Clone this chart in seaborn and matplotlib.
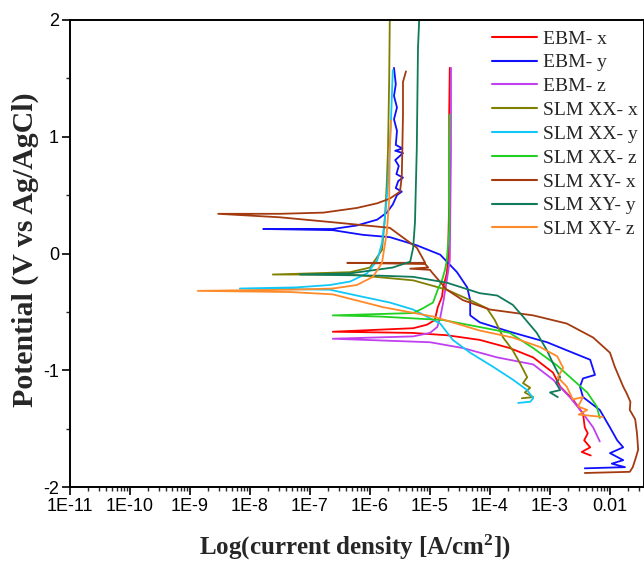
import numpy as np
import pandas as pd
import matplotlib
matplotlib.use("Agg")
import matplotlib.pyplot as plt
import seaborn as sns
from matplotlib.lines import Line2D
from matplotlib.ticker import FixedLocator, FixedFormatter, LogLocator, NullFormatter

# ---------------- data (log10 current density [A/cm2], potential [V]) ----------------
series_names = ["EBM- x", "EBM- y", "EBM- z", "SLM XX- x", "SLM XX- y",
                "SLM XX- z", "SLM XY- x", "SLM XY- y", "SLM XY- z"]
series_colors = ["#FF0000", "#1010FF", "#C040F0", "#808000", "#10C8F8",
                 "#22D022", "#A33A10", "#117A5B", "#FF8A2A"]

# cathodic branches: from corrosion point down to the start of the scan
ebm_x_cat_logI = [-6.62, -5.30, -4.72, -4.17, -3.67, -3.28, -2.95, -2.83, -2.62, -2.45, -2.42, -2.37, -2.43, -2.33, -2.47, -2.32]
ebm_x_cat_E = [-0.67, -0.68, -0.70, -0.74, -0.81, -0.89, -1.02, -1.14, -1.25, -1.37, -1.49, -1.54, -1.60, -1.66, -1.70, -1.73]
ebm_x_an_logI = [-6.62, -5.28, -5.05, -4.92, -4.87, -4.80, -4.78, -4.72, -4.70, -4.68, -4.68, -4.67]
ebm_x_an_E = [-0.67, -0.64, -0.61, -0.57, -0.46, -0.37, -0.29, -0.17, -0.06, 0.46, 1.20, 1.59]

ebm_y_cat_logI = [-7.78, -6.62, -6.12, -5.67, -5.22, -4.83, -4.55, -4.38, -4.33, -4.33, -4.17, -3.67, -3.05, -2.62, -2.33, -2.25,
                  -2.45, -2.50, -2.45, -2.17, -2.00, -1.88, -1.78, -2.00, -1.78, -1.97, -1.75, -2.42]
ebm_y_cat_E = [0.21, 0.20, 0.16, 0.14, 0.07, -0.01, -0.16, -0.29, -0.40, -0.53, -0.59, -0.67, -0.76, -0.85, -0.91, -1.04,
               -1.07, -1.14, -1.23, -1.34, -1.49, -1.60, -1.66, -1.71, -1.77, -1.80, -1.83, -1.84]
ebm_y_an_logI = [-7.78, -6.62, -6.22, -5.88, -5.72, -5.62, -5.55, -5.47, -5.57, -5.53, -5.45, -5.56, -5.52, -5.58, -5.45,
                 -5.58, -5.46, -5.57, -5.55, -5.60, -5.55, -5.60, -5.57, -5.60]
ebm_y_an_E = [0.21, 0.21, 0.24, 0.29, 0.35, 0.42, 0.50, 0.53, 0.56, 0.62, 0.65, 0.68, 0.75, 0.80, 0.86,
              0.88, 0.90, 0.93, 1.05, 1.15, 1.25, 1.35, 1.45, 1.59]

ebm_z_cat_logI = [-6.62, -5.00, -4.45, -3.88, -3.28, -2.95, -2.67, -2.45, -2.28, -2.17]
ebm_z_cat_E = [-0.73, -0.76, -0.81, -0.89, -0.95, -1.08, -1.23, -1.37, -1.49, -1.61]
ebm_z_an_logI = [-6.62, -5.28, -5.00, -4.88, -4.83, -4.78, -4.72, -4.67, -4.65, -4.65]
ebm_z_an_E = [-0.73, -0.71, -0.68, -0.63, -0.55, -0.42, -0.23, -0.06, 0.89, 1.59]

xx_x_cat_logI = [-7.62, -6.33, -5.28, -4.72, -4.33, -4.05, -3.92, -3.78, -3.62, -3.50, -3.38, -3.45, -3.33, -3.42, -3.28, -3.47]
xx_x_cat_E = [-0.18, -0.18, -0.23, -0.31, -0.40, -0.47, -0.57, -0.72, -0.83, -0.94, -1.06, -1.11, -1.15, -1.19, -1.23, -1.24]
xx_x_an_logI = [-7.62, -6.33, -6.00, -5.80, -5.75, -5.72, -5.70, -5.68, -5.67]
xx_x_an_E = [-0.18, -0.16, -0.12, 0.03, 0.31, 0.60, 0.89, 1.49, 2.00]

xx_y_cat_logI = [-8.17, -6.67, -6.22, -5.67, -5.28, -4.83, -4.62, -4.33, -3.95, -3.62, -3.38, -3.28, -3.33, -3.53]
xx_y_cat_E = [-0.30, -0.31, -0.36, -0.42, -0.48, -0.60, -0.74, -0.85, -0.97, -1.08, -1.17, -1.24, -1.27, -1.28]
xx_y_an_logI = [-8.17, -7.22, -6.67, -6.33, -6.05, -5.88, -5.80, -5.75, -5.70, -5.65, -5.62]
xx_y_an_E = [-0.30, -0.29, -0.27, -0.24, -0.17, -0.06, 0.09, 0.31, 0.60, 1.14, 1.57]

xx_z_cat_logI = [-6.62, -5.83, -4.78, -4.17, -3.67, -3.28, -2.88, -2.62, -2.38, -2.22, -2.17]
xx_z_cat_E = [-0.53, -0.54, -0.57, -0.63, -0.68, -0.81, -0.96, -1.08, -1.19, -1.31, -1.41]
xx_z_an_logI = [-6.62, -5.28, -5.12, -4.95, -4.87, -4.80, -4.75, -4.72, -4.68, -4.68, -4.67]
xx_z_an_E = [-0.53, -0.51, -0.47, -0.42, -0.31, -0.23, -0.14, -0.06, 0.20, 0.89, 1.19]

xy_x_cat_logI = [-8.53, -7.50, -6.67, -5.67, -5.22, -5.08, -6.38, -5.08, -5.03, -5.33, -5.00, -4.97, -4.72, -4.45, -4.00,
                 -3.28, -2.72, -2.28, -2.00, -1.92, -1.78, -1.72, -1.66, -1.67, -1.58, -1.55, -1.53, -1.57, -1.62, -1.67, -2.42]
xy_x_cat_E = [0.34, 0.31, 0.27, 0.22, 0.05, -0.08, -0.08, -0.09, -0.12, -0.13, -0.14, -0.16, -0.31, -0.40, -0.48,
              -0.53, -0.60, -0.72, -0.85, -0.97, -1.14, -1.20, -1.27, -1.34, -1.42, -1.54, -1.68, -1.75, -1.83, -1.87, -1.88]
xy_x_an_logI = [-8.53, -7.50, -6.78, -6.22, -5.88, -5.67, -5.50, -5.47, -5.45, -5.45, -5.40]
xy_x_an_E = [0.34, 0.34, 0.35, 0.39, 0.43, 0.47, 0.53, 0.66, 1.19, 1.47, 1.56]

xy_y_cat_logI = [-7.17, -5.83, -5.28, -4.72, -4.17, -3.88, -3.62, -3.45, -3.22, -3.05, -2.95, -2.83, -2.90, -2.83, -3.00, -2.87]
xy_y_cat_E = [-0.18, -0.19, -0.20, -0.25, -0.34, -0.36, -0.44, -0.54, -0.68, -0.83, -0.94, -1.06, -1.11, -1.17, -1.19, -1.23]
xy_y_an_logI = [-7.17, -6.33, -5.62, -5.33, -5.28, -5.25, -5.22, -5.20, -5.18]
xy_y_an_E = [-0.18, -0.17, -0.12, -0.07, 0.05, 0.27, 0.90, 1.76, 2.00]

xy_z_cat_logI = [-8.87, -7.33, -6.62, -5.78, -4.95, -4.17, -3.62, -3.17, -2.88, -2.78, -2.87, -2.72, -2.62, -2.45, -2.53, -2.38, -2.52, -2.12]
xy_z_cat_E = [-0.32, -0.33, -0.35, -0.46, -0.54, -0.66, -0.72, -0.80, -0.88, -0.98, -1.06, -1.14, -1.25, -1.23, -1.31, -1.34, -1.38, -1.40]
xy_z_an_logI = [-8.87, -7.33, -6.62, -6.22, -5.95, -5.80, -5.72, -5.68, -5.67, -5.65]
xy_z_an_E = [-0.32, -0.31, -0.30, -0.27, -0.20, -0.08, 0.18, 0.46, 0.89, 1.14]

x_tick_values = [1e-11, 1e-10, 1e-9, 1e-8, 1e-7, 1e-6, 1e-5, 1e-4, 1e-3, 1e-2]
x_tick_labels = ["1E-11", "1E-10", "1E-9", "1E-8", "1E-7", "1E-6", "1E-5", "1E-4", "1E-3", "0.01"]
y_tick_values = [-2, -1, 0, 1, 2]
y_tick_labels = ["-2", "-1", "0", "1", "2"]

branches = [
    (ebm_x_cat_logI, ebm_x_cat_E, ebm_x_an_logI, ebm_x_an_E),
    (ebm_y_cat_logI, ebm_y_cat_E, ebm_y_an_logI, ebm_y_an_E),
    (ebm_z_cat_logI, ebm_z_cat_E, ebm_z_an_logI, ebm_z_an_E),
    (xx_x_cat_logI, xx_x_cat_E, xx_x_an_logI, xx_x_an_E),
    (xx_y_cat_logI, xx_y_cat_E, xx_y_an_logI, xx_y_an_E),
    (xx_z_cat_logI, xx_z_cat_E, xx_z_an_logI, xx_z_an_E),
    (xy_x_cat_logI, xy_x_cat_E, xy_x_an_logI, xy_x_an_E),
    (xy_y_cat_logI, xy_y_cat_E, xy_y_an_logI, xy_y_an_E),
    (xy_z_cat_logI, xy_z_cat_E, xy_z_an_logI, xy_z_an_E),
]

rows = []
for name, (cl, ce, al, ae) in zip(series_names, branches):
    path_l = list(cl[::-1]) + list(al[1:])
    path_e = list(ce[::-1]) + list(ae[1:])
    for k, (l, e) in enumerate(zip(path_l, path_e)):
        rows.append({"series": name, "order": k, "I": 10.0 ** l, "E": e})
df = pd.DataFrame(rows)

# ---------------- plotting ----------------
sns.set_style("ticks")
plt.rcParams["font.family"] = ["Liberation Sans", "DejaVu Sans"]
plt.rcParams["mathtext.default"] = "regular"

W, H = 644, 562
fig = plt.figure(figsize=(W / 100, H / 100), dpi=100)
ax = fig.add_axes([70 / W, 1 - 487 / H, 1 - 70 / W, (487 - 20) / H])
ax.set_xscale("log")

sns.lineplot(data=df, x="I", y="E", hue="series", hue_order=series_names,
             palette=dict(zip(series_names, series_colors)), sort=False,
             estimator=None, linewidth=1.3, legend=False, ax=ax)

ax.set_xlim(1e-11, 10 ** -1.433)
ax.set_ylim(-2, 2)

ax.xaxis.set_major_locator(FixedLocator(x_tick_values))
ax.xaxis.set_major_formatter(FixedFormatter(x_tick_labels))
ax.xaxis.set_minor_locator(LogLocator(base=10, subs=np.arange(2, 10), numticks=50))
ax.xaxis.set_minor_formatter(NullFormatter())
ax.yaxis.set_major_locator(FixedLocator(y_tick_values))
ax.yaxis.set_major_formatter(FixedFormatter(y_tick_labels))
ax.yaxis.set_minor_locator(FixedLocator([-1.5, -0.5, 0.5, 1.5]))

ax.tick_params(axis="both", which="major", direction="out", length=5.5, width=1.2,
               labelsize=13, pad=2.5, colors="black")
ax.tick_params(axis="both", which="minor", direction="out", length=3, width=1.0)
ax.tick_params(top=False, right=False, which="both")
for s in ax.spines.values():
    s.set_linewidth(1.4)
    s.set_color("black")

ax.set_xlabel("Log(current density [A/cm$^{2}$])", family="Liberation Serif",
              weight="bold", size=18)
ax.set_ylabel("Potential (V vs Ag/AgCl)", family="Liberation Serif",
              weight="bold", size=21.5)
ax.xaxis.set_label_coords((355 - 70) / 574, (487 - 547) / 467)
ax.xaxis.label.set_va("center")
ax.yaxis.set_label_coords((25 - 70) / 574, (487 - 250) / 467)
ax.yaxis.label.set_va("center")

handles = [Line2D([0], [0], color=c, lw=1.5) for c in series_colors]
fig.legend(handles, series_names, loc="upper left",
           bbox_to_anchor=(492 / W, 1 - 30 / H), frameon=False,
           prop={"family": "Liberation Serif", "size": 14},
           handlelength=2.3, handletextpad=0.3, labelspacing=0.32,
           borderpad=0, borderaxespad=0)

fig.savefig("out.png", dpi=100)
